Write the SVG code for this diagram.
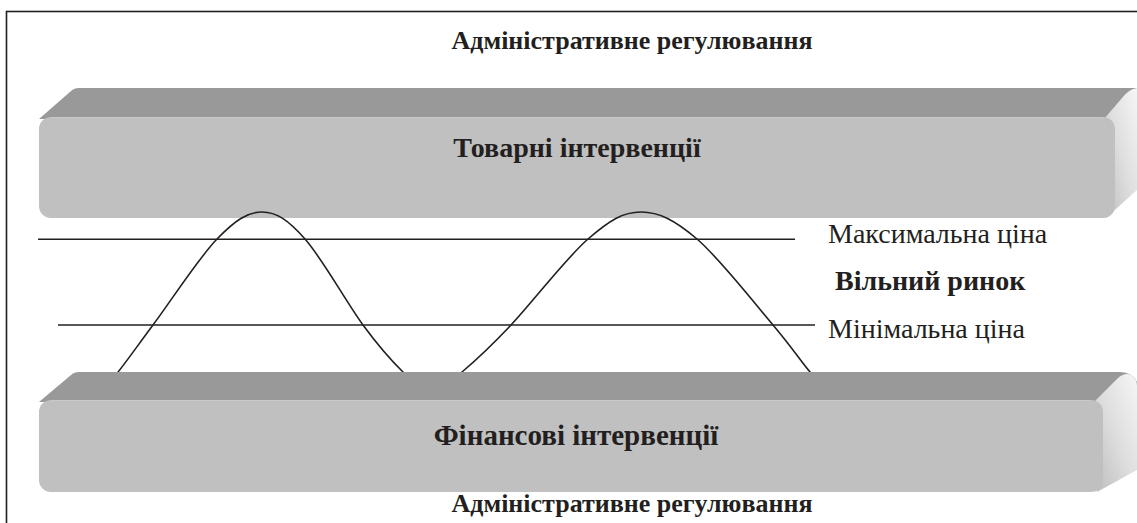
<svg xmlns="http://www.w3.org/2000/svg" width="1137" height="523" viewBox="0 0 1137 523">
<style>
.t{font-family:"Liberation Serif","Times New Roman",serif;fill:#231f20;font-size:28px}
.b{font-weight:bold}
.h{font-size:26px}
.top{fill:#999999}
.front{fill:#c0c0c0}
.ln{stroke:#231f20;stroke-width:1.6;fill:none}
</style>
<defs>
<linearGradient id="side" x1="1" y1="0" x2="0" y2="1">
<stop offset="0" stop-color="#f6f6f6"/>
<stop offset="0.5" stop-color="#dedede"/>
<stop offset="1" stop-color="#bcbcbc"/>
</linearGradient>
</defs>
<rect x="0" y="0" width="1137" height="523" fill="#ffffff"/>
<rect x="6.5" y="11.5" width="1140" height="525" fill="none" stroke="#231f20" stroke-width="1.6"/>
<text class="t b h" x="632" y="49" text-anchor="middle">Адміністративне регулювання</text>

<g id="tovarni">
<path class="top" d="M39,119 L71,91 Q74,88 79,88 L1137,88 L1137,119 Z"/>
<path fill="url(#side)" d="M1104,119 L1122,98 Q1129,89 1137,88 L1137,190 L1106,218 Z"/>
<rect class="front" x="39" y="117" width="1076" height="101" rx="12"/>
<line x1="51" y1="117.5" x2="1103" y2="117.5" stroke="#c9c9c9" stroke-width="1"/>
<text class="t b" x="577" y="157" text-anchor="middle">Товарні інтервенції</text>
</g>

<g id="connectors">
<line class="ln" x1="38" y1="239.3" x2="795" y2="239.3"/>
<line class="ln" x1="58" y1="325" x2="815" y2="325"/>
<path class="ln" d="M110,382 C122.2,367.8 135.2,348.8 153,325 C170.8,301.2 198.8,257.8 217,239 C235.2,220.2 247.3,212 262,212 C276.7,212 288.2,220.2 305,239 C321.8,257.8 346.7,302.8 363,325 C379.3,347.2 391.5,360.8 403,372 C414.5,383.2 422.2,392 432,392 C441.8,392 448.8,383.2 462,372 C475.2,360.8 490,347.2 511,325 C532,302.8 566.3,257.8 588,239 C609.7,220.2 622.8,212 641,212 C659.2,212 675,220.2 697,239 C719,257.8 754.2,302.8 773,325 C791.8,347.2 800.5,360.8 810,372 C819.5,383.2 823.3,385.3 830,392"/>
</g>

<g id="labels">
<text class="t" x="828" y="243">Максимальна ціна</text>
<text class="t b" x="835" y="290">Вільний ринок</text>
<text class="t" x="828" y="338">Мінімальна ціна</text>
</g>

<g id="finansovi">
<path class="top" d="M39,402 L71,375 Q74,372 79,372 L1120,372 Q1132,372 1137,382 L1137,402 Z"/>
<path fill="url(#side)" d="M1094,402 L1118,378 Q1125,372 1131,375 Q1137,379 1137,386 L1137,470 L1097,492 Z"/>
<rect class="front" x="39" y="400" width="1064" height="92" rx="12"/>
<line x1="51" y1="400.5" x2="1091" y2="400.5" stroke="#c9c9c9" stroke-width="1"/>
<text class="t b" x="576" y="445" text-anchor="middle" style="font-size:29px">Фінансові інтервенції</text>
</g>

<text class="t b h" x="632" y="512" text-anchor="middle">Адміністративне регулювання</text>
</svg>
